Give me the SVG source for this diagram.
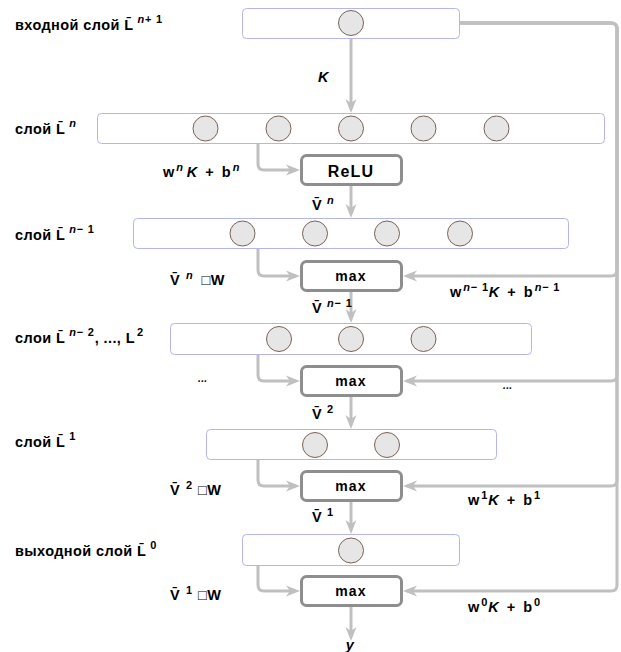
<svg xmlns="http://www.w3.org/2000/svg" width="621" height="652" viewBox="0 0 621 652">
<defs>
<style>
.layer{fill:#fff;stroke:#b4b4f0;stroke-width:1}
.neuron{fill:#e6e6e6;stroke:#7a6256;stroke-width:1}
.op{fill:#fff;stroke:#8e8e8e;stroke-width:3}
.conn{fill:none;stroke:#c0c0c0;stroke-width:3}
.t{font-family:"Liberation Sans",Arial,sans-serif;font-size:14.5px;font-weight:bold;fill:#000;letter-spacing:0.4px}
.f{letter-spacing:2px}
.s{font-size:11px;letter-spacing:0.8px}
.i{font-style:italic}
.n{font-weight:normal}
.op-t{font-family:"Liberation Sans",Arial,sans-serif;font-size:14px;font-weight:bold;fill:#000;text-anchor:middle;letter-spacing:1.2px}
</style>
<marker id="ah" markerUnits="userSpaceOnUse" viewBox="0 0 14 12" markerWidth="14" markerHeight="12" refX="10" refY="6" orient="auto">
<path d="M0,0.5 L14,6 L0,11.5 L4,6 Z" fill="#c0c0c0"/>
</marker>
</defs>
<rect width="621" height="652" fill="#fff"/>

<g id="connectors">
<path class="conn" d="M351,39 V109" marker-end="url(#ah)"/>
<path class="conn" d="M351,186 V214" marker-end="url(#ah)"/>
<path class="conn" d="M351,292 V319" marker-end="url(#ah)"/>
<path class="conn" d="M351,397 V425" marker-end="url(#ah)"/>
<path class="conn" d="M351,502 V530" marker-end="url(#ah)"/>
<path class="conn" d="M351,607 V637" marker-end="url(#ah)"/>
<path class="conn" d="M258,144 V164 Q258,170 264,170 H296" marker-end="url(#ah)"/>
<path class="conn" d="M258,249 V270 Q258,276 264,276 H296" marker-end="url(#ah)"/>
<path class="conn" d="M258,355 V375 Q258,381 264,381 H296" marker-end="url(#ah)"/>
<path class="conn" d="M258,460 V480 Q258,486 264,486 H296" marker-end="url(#ah)"/>
<path class="conn" d="M258,566 V585 Q258,591 264,591 H296" marker-end="url(#ah)"/>
<path class="conn" d="M460,23 H611 Q617,23 617,29 V270 Q617,276 611,276 H407" marker-end="url(#ah)"/>
<path class="conn" d="M460,23 H611 Q617,23 617,29 V375 Q617,381 611,381 H407" marker-end="url(#ah)"/>
<path class="conn" d="M460,23 H611 Q617,23 617,29 V480 Q617,486 611,486 H407" marker-end="url(#ah)"/>
<path class="conn" d="M460,23 H611 Q617,23 617,29 V585 Q617,591 611,591 H407" marker-end="url(#ah)"/>
</g>

<g id="layer-input">
<rect class="layer" x="242.5" y="8.5" width="217" height="30" rx="4"/>
<circle class="neuron" cx="351" cy="23" r="12.5"/>
</g>
<g id="layer-n">
<rect class="layer" x="97.5" y="113.5" width="507" height="30" rx="4"/>
<circle class="neuron" cx="205.5" cy="128.5" r="12.5"/>
<circle class="neuron" cx="278.5" cy="128.5" r="12.5"/>
<circle class="neuron" cx="351" cy="128.5" r="12.5"/>
<circle class="neuron" cx="423.5" cy="128.5" r="12.5"/>
<circle class="neuron" cx="496.5" cy="128.5" r="12.5"/>
</g>
<g id="relu">
<rect class="op" x="301.5" y="155.5" width="100" height="29" rx="5"/>
<text class="op-t" x="351" y="177" style="font-size:16px">ReLU</text>
</g>
<g id="layer-n-1">
<rect class="layer" x="133.5" y="218.5" width="435" height="30" rx="4"/>
<circle class="neuron" cx="242.5" cy="233.5" r="12.5"/>
<circle class="neuron" cx="315" cy="233.5" r="12.5"/>
<circle class="neuron" cx="387" cy="233.5" r="12.5"/>
<circle class="neuron" cx="460" cy="233.5" r="12.5"/>
</g>
<g id="max1">
<rect class="op" x="301.5" y="261.5" width="100" height="29" rx="5"/>
<text class="op-t" x="351" y="281">max</text>
</g>
<g id="layer-n-2">
<rect class="layer" x="170.5" y="323.5" width="361" height="31" rx="4"/>
<circle class="neuron" cx="279" cy="339" r="12.5"/>
<circle class="neuron" cx="351" cy="339" r="12.5"/>
<circle class="neuron" cx="423.5" cy="339" r="12.5"/>
</g>
<g id="max2">
<rect class="op" x="301.5" y="366.5" width="100" height="29" rx="5"/>
<text class="op-t" x="351" y="386">max</text>
</g>
<g id="layer-1">
<rect class="layer" x="206.5" y="429.5" width="290" height="30" rx="4"/>
<circle class="neuron" cx="315" cy="445" r="12.5"/>
<circle class="neuron" cx="387" cy="445" r="12.5"/>
</g>
<g id="max3">
<rect class="op" x="301.5" y="471.5" width="100" height="29" rx="5"/>
<text class="op-t" x="351" y="491">max</text>
</g>
<g id="layer-0">
<rect class="layer" x="242.5" y="534.5" width="217" height="31" rx="4"/>
<circle class="neuron" cx="351" cy="550.5" r="12.5"/>
</g>
<g id="max4">
<rect class="op" x="301.5" y="576.5" width="100" height="29" rx="5"/>
<text class="op-t" x="351" y="596">max</text>
</g>

<g id="labels">
<text class="t" x="15" y="30">входной слой L̄<tspan class="s" dy="-7" dx="4"><tspan class="i">n</tspan>+ 1</tspan></text>
<text class="t" x="15" y="134">слой L̄<tspan class="s i" dy="-7" dx="4">n</tspan></text>
<text class="t" x="15" y="240">слой L̄<tspan class="s" dy="-7" dx="4"><tspan class="i">n</tspan>− 1</tspan></text>
<text class="t" x="15" y="343">слои L̄<tspan class="s" dy="-7" dx="4"><tspan class="i">n</tspan>− 2</tspan><tspan dy="7">, ..., L</tspan><tspan class="s" dy="-7" dx="2">2</tspan></text>
<text class="t" x="15" y="447">слой L̄<tspan class="s" dy="-7" dx="4">1</tspan></text>
<text class="t" x="15" y="556">выходной слой L̄<tspan class="s" dy="-7" dx="4">0</tspan></text>

<text class="t f" x="163" y="177">w<tspan class="s i" dy="-6">n</tspan><tspan class="i" dy="6" dx="3">K</tspan> + b<tspan class="s i" dy="-6">n</tspan></text>
<text class="t" x="170" y="285">V̄<tspan class="s i" dy="-6" dx="6">n</tspan><tspan class="n" dy="6" dx="8">□</tspan>W</text>
<text class="t" x="170" y="495">V̄<tspan class="s" dy="-6" dx="6">2</tspan><tspan class="n" dy="6" dx="5">□</tspan>W</text>
<text class="t" x="170" y="600">V̄<tspan class="s" dy="-6" dx="6">1</tspan><tspan class="n" dy="6" dx="5">□</tspan>W</text>
<text class="t i" x="198" y="382" style="font-size:10px">...</text>

<text class="t i" x="318" y="82">K</text>
<text class="t" x="312" y="210">V̄<tspan class="s i" dy="-6" dx="5">n</tspan></text>
<text class="t" x="312" y="313">V̄<tspan class="s" dy="-6" dx="5"><tspan class="i">n</tspan>− 1</tspan></text>
<text class="t" x="312" y="419">V̄<tspan class="s" dy="-6" dx="5">2</tspan></text>
<text class="t" x="312" y="522">V̄<tspan class="s" dy="-6" dx="5">1</tspan></text>
<text class="t i" x="350" y="650" text-anchor="middle">y</text>

<text class="t f" x="450" y="297">w<tspan class="s" dy="-6"><tspan class="i">n</tspan>− 1</tspan><tspan class="i" dy="6">K</tspan> + b<tspan class="s" dy="-6"><tspan class="i">n</tspan>− 1</tspan></text>
<text class="t i" x="503" y="389" style="font-size:10px">...</text>
<text class="t f" x="468" y="505">w<tspan class="s" dy="-6">1</tspan><tspan class="i" dy="6">K</tspan> + b<tspan class="s" dy="-6">1</tspan></text>
<text class="t f" x="468" y="612">w<tspan class="s" dy="-6">0</tspan><tspan class="i" dy="6">K</tspan> + b<tspan class="s" dy="-6">0</tspan></text>
</g>
</svg>
